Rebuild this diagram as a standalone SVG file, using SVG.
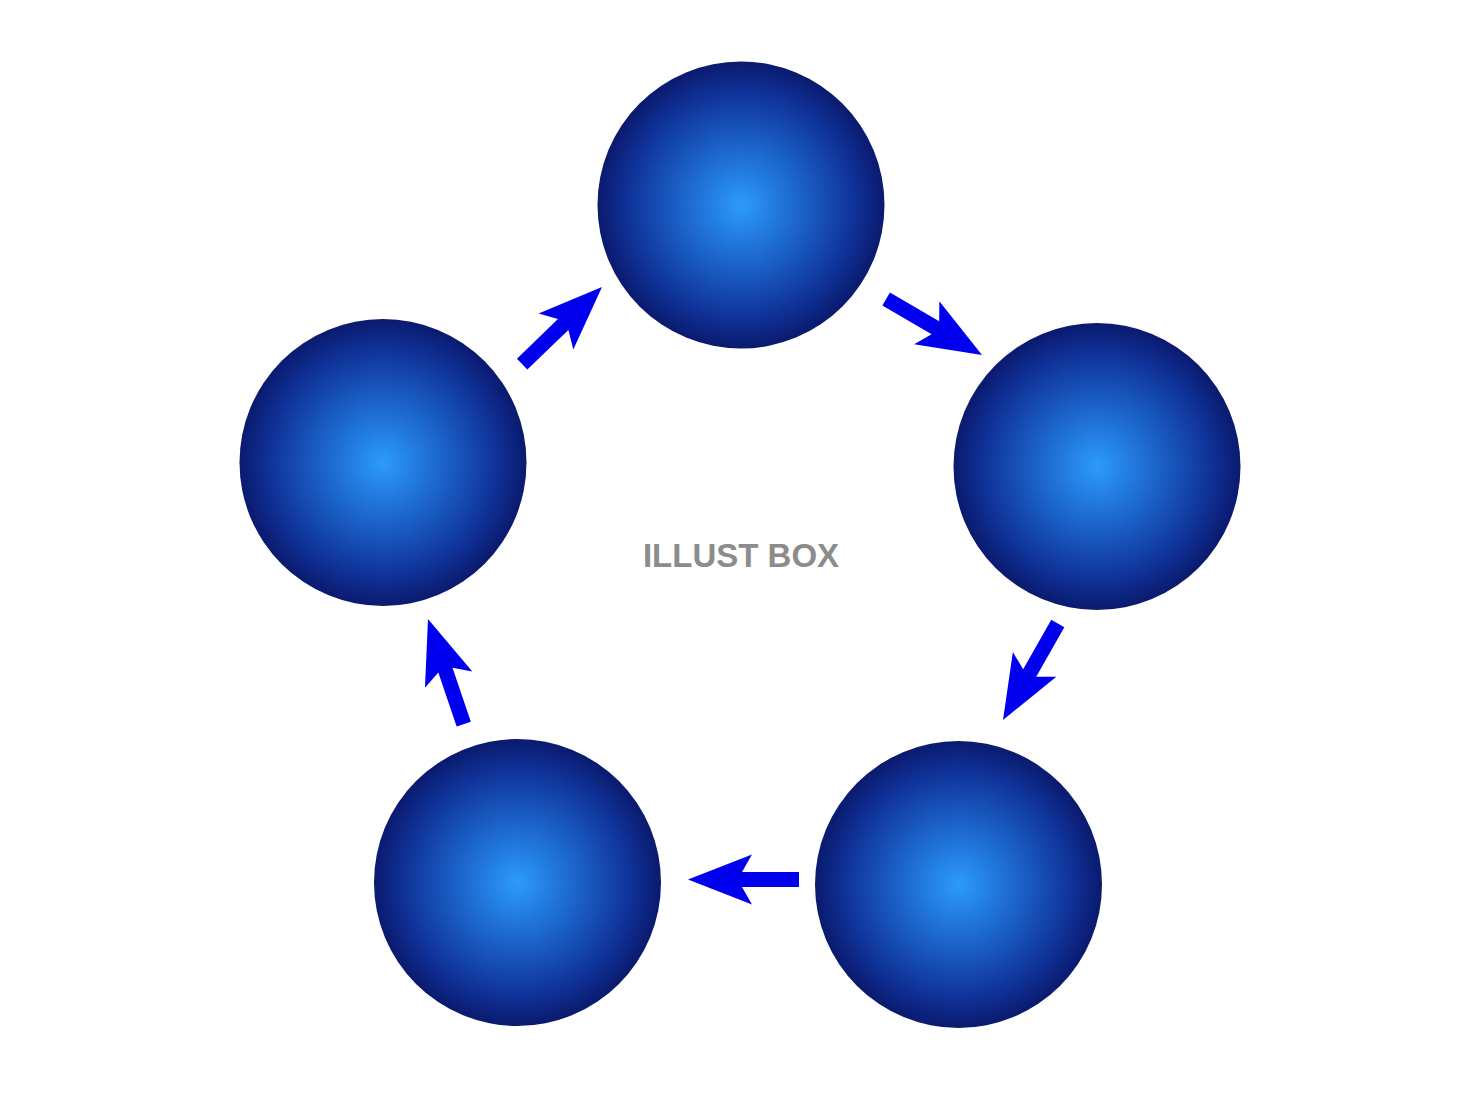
<svg xmlns="http://www.w3.org/2000/svg" width="1480" height="1110" viewBox="0 0 1480 1110">
  <defs>
    <radialGradient id="ball" cx="0.5" cy="0.5" r="0.5">
      <stop offset="0" stop-color="#2c9bfb"/>
      <stop offset="0.45" stop-color="#1a5fc6"/>
      <stop offset="0.8" stop-color="#0f3196"/>
      <stop offset="1" stop-color="#0a1a6e"/>
    </radialGradient>
    <path id="arrow" d="M0,0 L-64,-25 L-54,-7.5 L-111,-7.5 L-111,7.5 L-54,7.5 L-64,25 Z"/>
  </defs>
  <style>
    .node { fill: url(#ball); }
    .arr { fill: #0000ee; }
    .wm { font-family: "Liberation Sans", Arial, sans-serif; font-weight: bold; font-size: 33px; fill: #8c8c8c; }
  </style>
  <rect width="1480" height="1110" fill="#ffffff"/>
  <g id="node-top"><circle class="node" cx="741" cy="205" r="143.5"/></g>
  <g id="node-right"><circle class="node" cx="1097" cy="466.5" r="143.5"/></g>
  <g id="node-bottom-right"><circle class="node" cx="958.5" cy="884.5" r="143.5"/></g>
  <g id="node-bottom-left"><circle class="node" cx="517.5" cy="882.5" r="143.5"/></g>
  <g id="node-left"><circle class="node" cx="383" cy="462.5" r="143.5"/></g>
  <g id="connectors">
    <use href="#arrow" class="arr" transform="translate(602,287) rotate(-44)"/>
    <use href="#arrow" class="arr" transform="translate(982,355) rotate(30.3)"/>
    <use href="#arrow" class="arr" transform="translate(1003,720) rotate(119.6)"/>
    <use href="#arrow" class="arr" transform="translate(688,879.5) rotate(180)"/>
    <use href="#arrow" class="arr" transform="translate(428,619) rotate(-108.8)"/>
  </g>
  <text class="wm" x="741" y="567" text-anchor="middle">ILLUST BOX</text>
</svg>
